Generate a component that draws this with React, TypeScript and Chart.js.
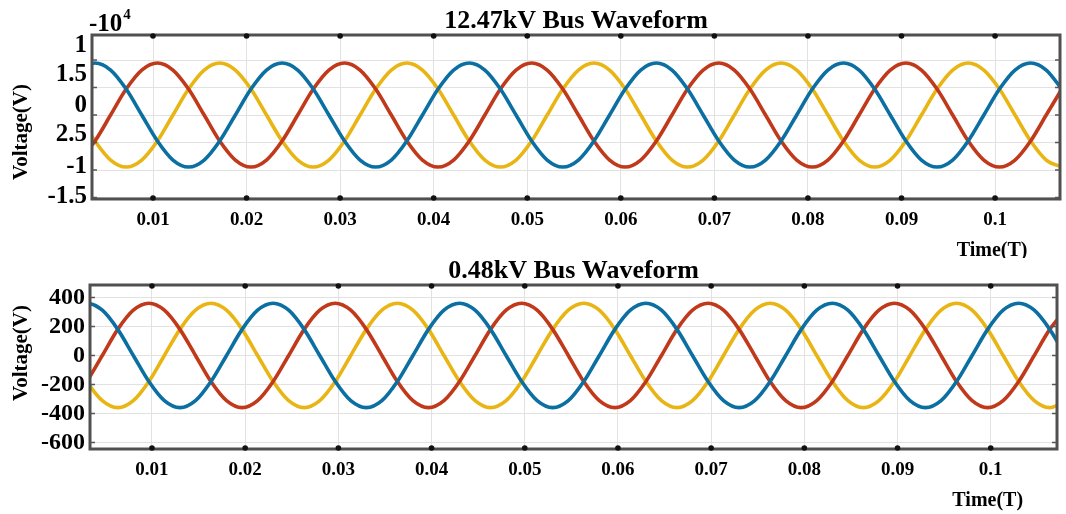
import React, { useEffect, useRef } from "react";
import { Chart, registerables } from "chart.js";

Chart.register(...registerables);

const SERIF = "'Liberation Serif', 'Times New Roman', serif";

// ---------- Shared axis text ----------
const xTickValues = [0.01, 0.02, 0.03, 0.04, 0.05, 0.06, 0.07, 0.08, 0.09, 0.1];
const xTickLabels = ["0.01", "0.02", "0.03", "0.04", "0.05", "0.06", "0.07", "0.08", "0.09", "0.1"];
const phaseNames = ["Phase A", "Phase B", "Phase C"];
const phaseColors = ["#0b6fa2", "#c0391a", "#e9b515"];

// ---------- 12.47 kV bus (volts) ----------
const topTitle = "12.47kV Bus Waveform";
const topTime = [
  0.00213, 0.0038, 0.00547, 0.00713, 0.0088, 0.01047, 0.01213, 0.0138, 0.01547, 0.01713, 0.0188, 0.02047,
  0.02213, 0.0238, 0.02547, 0.02713, 0.0288, 0.03047, 0.03213, 0.0338, 0.03547, 0.03713, 0.0388, 0.04047,
  0.04213, 0.0438, 0.04547, 0.04713, 0.0488, 0.05047, 0.05213, 0.0538, 0.05547, 0.05713, 0.0588, 0.06047,
  0.06213, 0.0638, 0.06547, 0.06713, 0.0688, 0.07047, 0.07213, 0.0738, 0.07547, 0.07713, 0.0788, 0.08047,
  0.08213, 0.0838, 0.08547, 0.08713, 0.0888, 0.09047, 0.09213, 0.0938, 0.09547, 0.09713, 0.0988, 0.10047,
  0.10213, 0.1038, 0.10547, 0.10713,
];
const topPhaseA = [
  8184, 9450, 8184, 4725, 0, -4725, -8184, -9450, -8184, -4725, 0, 4725,
  8184, 9450, 8184, 4725, 0, -4725, -8184, -9450, -8184, -4725, 0, 4725,
  8184, 9450, 8184, 4725, 0, -4725, -8184, -9450, -8184, -4725, 0, 4725,
  8184, 9450, 8184, 4725, 0, -4725, -8184, -9450, -8184, -4725, 0, 4725,
  8184, 9450, 8184, 4725, 0, -4725, -8184, -9450, -8184, -4725, 0, 4725,
  8184, 9450, 8184, 4725,
];
const topPhaseB = [
  -8184, -4725, 0, 4725, 8184, 9450, 8184, 4725, 0, -4725, -8184, -9450,
  -8184, -4725, 0, 4725, 8184, 9450, 8184, 4725, 0, -4725, -8184, -9450,
  -8184, -4725, 0, 4725, 8184, 9450, 8184, 4725, 0, -4725, -8184, -9450,
  -8184, -4725, 0, 4725, 8184, 9450, 8184, 4725, 0, -4725, -8184, -9450,
  -8184, -4725, 0, 4725, 8184, 9450, 8184, 4725, 0, -4725, -8184, -9450,
  -8184, -4725, 0, 4725,
];
const topPhaseC = [
  0, -4725, -8184, -9450, -8184, -4725, 0, 4725, 8184, 9450, 8184, 4725,
  0, -4725, -8184, -9450, -8184, -4725, 0, 4725, 8184, 9450, 8184, 4725,
  0, -4725, -8184, -9450, -8184, -4725, 0, 4725, 8184, 9450, 8184, 4725,
  0, -4725, -8184, -9450, -8184, -4725, 0, 4725, 8184, 9450, 8184, 4725,
  0, -4725, -8184, -9450, -8184, -4725, 0, 4725, 8184, 9450, 8184, 4725,
  0, -4725, -8184, -9450,
];
const topXRange = [0.00348, 0.10694];
const topYRange = [-15270, 14550];
const topYGridValues = [10000, 5000, 0, -5000, -10000, -15000];
const topYTickValues = [12700, 7300, 1800, -3600, -9450, -14900];
const topYTickLabels = ["1", "1.5", "0", "2.5", "-1", "-1.5"];

// ---------- 0.48 kV bus (volts) ----------
const bottomTitle = "0.48kV Bus Waveform";
const bottomTime = [
  0.00133, 0.003, 0.00467, 0.00633, 0.008, 0.00967, 0.01133, 0.013, 0.01467, 0.01633, 0.018, 0.01967,
  0.02133, 0.023, 0.02467, 0.02633, 0.028, 0.02967, 0.03133, 0.033, 0.03467, 0.03633, 0.038, 0.03967,
  0.04133, 0.043, 0.04467, 0.04633, 0.048, 0.04967, 0.05133, 0.053, 0.05467, 0.05633, 0.058, 0.05967,
  0.06133, 0.063, 0.06467, 0.06633, 0.068, 0.06967, 0.07133, 0.073, 0.07467, 0.07633, 0.078, 0.07967,
  0.08133, 0.083, 0.08467, 0.08633, 0.088, 0.08967, 0.09133, 0.093, 0.09467, 0.09633, 0.098, 0.09967,
  0.10133, 0.103, 0.10467, 0.10633, 0.108,
];
const bottomPhaseA = [
  312, 360, 312, 180, 0, -180, -312, -360, -312, -180, 0, 180,
  312, 360, 312, 180, 0, -180, -312, -360, -312, -180, 0, 180,
  312, 360, 312, 180, 0, -180, -312, -360, -312, -180, 0, 180,
  312, 360, 312, 180, 0, -180, -312, -360, -312, -180, 0, 180,
  312, 360, 312, 180, 0, -180, -312, -360, -312, -180, 0, 180,
  312, 360, 312, 180, 0,
];
const bottomPhaseB = [
  -312, -180, 0, 180, 312, 360, 312, 180, 0, -180, -312, -360,
  -312, -180, 0, 180, 312, 360, 312, 180, 0, -180, -312, -360,
  -312, -180, 0, 180, 312, 360, 312, 180, 0, -180, -312, -360,
  -312, -180, 0, 180, 312, 360, 312, 180, 0, -180, -312, -360,
  -312, -180, 0, 180, 312, 360, 312, 180, 0, -180, -312, -360,
  -312, -180, 0, 180, 312,
];
const bottomPhaseC = [
  0, -180, -312, -360, -312, -180, 0, 180, 312, 360, 312, 180,
  0, -180, -312, -360, -312, -180, 0, 180, 312, 360, 312, 180,
  0, -180, -312, -360, -312, -180, 0, 180, 312, 360, 312, 180,
  0, -180, -312, -360, -312, -180, 0, 180, 312, 360, 312, 180,
  0, -180, -312, -360, -312, -180, 0, 180, 312, 360, 312, 180,
  0, -180, -312, -360, -312,
];
const bottomXRange = [0.00335, 0.10711];
const bottomYRange = [-645, 486];
const bottomYGridValues = [400, 200, 0, -200, -400, -600];
const bottomYTickValues = [400, 200, 0, -200, -400, -600];
const bottomYTickLabels = ["400", "200", "0", "-200", "-400", "-600"];

type PanelProps = {
  height: number;
  title: string;
  titleBaseline: number;
  exponent: boolean;
  time: number[];
  series: number[][];
  xRange: number[];
  yRange: number[];
  yGrid: number[];
  yTickValues: number[];
  yTickLabels: string[];
  yFontSize: number;
  pad: { top: number; right: number };
  yAxisWidth: number;
  xAxisHeight: number;
  yTitleY: number;
  xTitleBaseline: number;
};

function WavePanel(p: PanelProps) {
  const ref = useRef<HTMLCanvasElement | null>(null);

  useEffect(() => {
    if (!ref.current) return;
    const decor = {
      id: "decor",
      afterDraw(chart: any) {
        const { ctx, chartArea: a, scales } = chart;
        ctx.save();
        // frame
        ctx.strokeStyle = "#505050";
        ctx.lineWidth = 3;
        ctx.strokeRect(a.left, a.top, a.right - a.left, a.bottom - a.top);
        // tick dots on top and bottom edges
        ctx.fillStyle = "#111";
        for (const v of xTickValues) {
          const px = scales.x.getPixelForValue(v);
          ctx.beginPath();
          ctx.arc(px, a.top + 1, 2.8, 0, Math.PI * 2);
          ctx.fill();
          ctx.beginPath();
          ctx.arc(px, a.bottom - 1, 2.8, 0, Math.PI * 2);
          ctx.fill();
        }
        // small y tick marks
        ctx.strokeStyle = "#555";
        ctx.lineWidth = 1.5;
        for (const v of p.yGrid) {
          const py = scales.y.getPixelForValue(v);
          ctx.beginPath();
          ctx.moveTo(a.left, py);
          ctx.lineTo(a.left + 5, py);
          ctx.moveTo(a.right, py);
          ctx.lineTo(a.right - 5, py);
          ctx.stroke();
        }
        ctx.fillStyle = "#000";
        // title
        ctx.font = `bold 26px ${SERIF}`;
        ctx.textAlign = "center";
        ctx.textBaseline = "alphabetic";
        ctx.fillText(p.title, (a.left + a.right) / 2, p.titleBaseline);
        // exponent label
        if (p.exponent) {
          ctx.textAlign = "left";
          ctx.font = `bold 25px ${SERIF}`;
          ctx.fillText("-10", a.left - 3, 31);
          const w = ctx.measureText("-10").width;
          ctx.font = `bold 15px ${SERIF}`;
          ctx.fillText("4", a.left - 2 + w, 19);
        }
        // y title
        ctx.save();
        ctx.translate(22, p.yTitleY);
        ctx.rotate(-Math.PI / 2);
        ctx.font = `bold 21px ${SERIF}`;
        ctx.textAlign = "center";
        ctx.textBaseline = "middle";
        ctx.fillText("Voltage(V)", 0, 0);
        ctx.restore();
        // x title
        ctx.font = `bold 20px ${SERIF}`;
        ctx.textAlign = "center";
        ctx.textBaseline = "alphabetic";
        ctx.fillText("Time(T)", scales.x.getPixelForValue(0.1) - 3, p.xTitleBaseline);
        ctx.restore();
      },
    };

    const chart = new Chart(ref.current, {
      type: "line",
      data: {
        datasets: p.series.map((vals, i) => ({
          label: phaseNames[i],
          data: p.time.map((t, j) => ({ x: t, y: vals[j] })),
          borderColor: phaseColors[i],
          backgroundColor: phaseColors[i],
          borderWidth: 3.6,
          pointRadius: 0,
          cubicInterpolationMode: "monotone" as const,
          fill: false,
          xAxisID: "x",
          yAxisID: "y",
        })),
      },
      options: {
        responsive: false,
        animation: false,
        events: [],
        layout: { padding: { top: p.pad.top, right: p.pad.right, left: 0, bottom: 0 } },
        plugins: { legend: { display: false }, tooltip: { enabled: false }, title: { display: false } },
        scales: {
          x: {
            type: "linear",
            position: "bottom",
            min: p.xRange[0],
            max: p.xRange[1],
            afterBuildTicks: (s: any) => {
              s.ticks = xTickValues.map((v) => ({ value: v }));
            },
            afterFit: (s: any) => {
              s.height = p.xAxisHeight;
            },
            ticks: {
              autoSkip: false,
              maxRotation: 0,
              padding: 10,
              color: "#000",
              font: { family: SERIF, size: 19, weight: "bold" },
              callback: (_v: any, i: number) => xTickLabels[i],
            },
            grid: { color: "#e2e2e2", lineWidth: 1, drawTicks: false },
            border: { display: false },
          },
          y: {
            type: "linear",
            position: "left",
            min: p.yRange[0],
            max: p.yRange[1],
            afterBuildTicks: (s: any) => {
              s.ticks = p.yGrid.map((v) => ({ value: v }));
            },
            afterFit: (s: any) => {
              s.width = 0;
            },
            ticks: { display: false },
            grid: { color: "#e2e2e2", lineWidth: 1, drawTicks: false },
            border: { display: false },
          },
          yLabels: {
            type: "linear",
            position: "left",
            min: p.yRange[0],
            max: p.yRange[1],
            afterBuildTicks: (s: any) => {
              s.ticks = p.yTickValues.map((v) => ({ value: v }));
            },
            afterFit: (s: any) => {
              s.width = p.yAxisWidth;
            },
            ticks: {
              autoSkip: false,
              padding: 5,
              color: "#000",
              font: { family: SERIF, size: p.yFontSize, weight: "bold" },
              callback: (_v: any, i: number) => p.yTickLabels[i],
            },
            grid: { display: false, drawTicks: false },
            border: { display: false },
          },
        },
      } as any,
      plugins: [decor],
    });
    return () => chart.destroy();
  }, []);

  return (
    <canvas
      ref={ref}
      width={1066}
      height={p.height}
      style={{ display: "block", width: 1066, height: p.height }}
    />
  );
}

export default function App() {
  return (
    <div style={{ position: "absolute", left: 0, top: 0, width: 1066, height: 514, background: "#fff" }}>
      <WavePanel
        height={258}
        title={topTitle}
        titleBaseline={28}
        exponent={true}
        time={topTime}
        series={[topPhaseA, topPhaseB, topPhaseC]}
        xRange={topXRange}
        yRange={topYRange}
        yGrid={topYGridValues}
        yTickValues={topYTickValues}
        yTickLabels={topYTickLabels}
        yFontSize={25}
        pad={{ top: 35, right: 6 }}
        yAxisWidth={92}
        xAxisHeight={59}
        yTitleY={132}
        xTitleBaseline={256}
      />
      <WavePanel
        height={256}
        title={bottomTitle}
        titleBaseline={20}
        exponent={false}
        time={bottomTime}
        series={[bottomPhaseA, bottomPhaseB, bottomPhaseC]}
        xRange={bottomXRange}
        yRange={bottomYRange}
        yGrid={bottomYGridValues}
        yTickValues={bottomYTickValues}
        yTickLabels={bottomYTickLabels}
        yFontSize={24}
        pad={{ top: 27, right: 9 }}
        yAxisWidth={90}
        xAxisHeight={65}
        yTitleY={95}
        xTitleBaseline={248}
      />
    </div>
  );
}
